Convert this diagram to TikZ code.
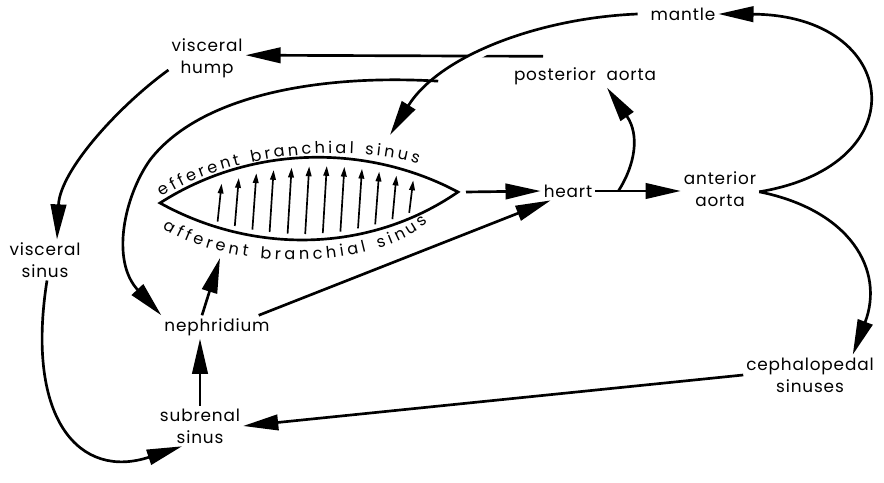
\documentclass[tikz,border=0pt]{standalone}
\usepackage{fontspec}
\usepackage{tikz}
\usetikzlibrary{positioning,arrows.meta,decorations.text}
\newfontfamily\organfont[LetterSpace=5]{Poppins}
\newcommand\lensfont{\organfont\fontsize{11.5}{14}\selectfont}

\begin{document}
\begin{tikzpicture}[
organ/.style={align=center, inner sep=2pt, font=\organfont\fontsize{12}{15.5}\selectfont},
flow/.style={line width=1.9pt, -{Triangle[length=25pt,width=11pt]}},
gill/.style={line width=1.2pt, -{Triangle[length=7pt,width=4pt]}},
wall/.style={line width=1.9pt, line join=miter}
]
\useasboundingbox (0,0) rectangle (22.1,-12.075);
%Nodes
\node[organ]     (hump)   at (5.175,-1.45)                              {visceral\\hump};
\node[organ]     (vsinus) [below of=hump, xshift=-4.05cm, yshift=-4.05cm]  {visceral\\sinus};
\node[organ]     (neph)   [below of=hump, xshift=0.25cm, yshift=-5.725cm]  {nephridium};
\node[organ]     (subren) [below of=neph, xshift=-0.425cm, yshift=-1.475cm] {subrenal\\sinus};
\node[organ]     (heart)  [right of=neph, xshift=7.775cm, yshift=3.4cm]    {heart};
\node[organ]     (antao)  [right of=heart, xshift=2.8cm, yshift=0.05cm]    {anterior\\aorta};
\node[organ]     (postao) [above of=heart, xshift=0.425cm, yshift=1.875cm] {posterior\ \ aorta};
\node[organ]     (mantle) [above of=antao, xshift=-0.925cm, yshift=3.375cm] {mantle};
\node[organ]     (cephal) [below of=antao, xshift=2.25cm, yshift=-3.65cm]  {cephalopedal\\sinuses};
%Gill
\coordinate (lt)  at (4.0,-5.075);
\coordinate (rt)  at (11.45,-4.8);
\coordinate (eff) at (9.75,-3.375);
\coordinate (aff) at (5.5,-6.45);
\draw[wall] (lt) .. controls (6.3,-3.6) and (9.2,-3.6) .. (rt) .. controls (9.2,-6.35) and (6.3,-6.35) .. (lt) -- cycle;
\draw[gill] (5.44,-5.54) -- (5.54,-4.59);
\draw[gill] (5.87,-5.65) -- (5.97,-4.45);
\draw[gill] (6.31,-5.74) -- (6.41,-4.33);
\draw[gill] (6.74,-5.80) -- (6.84,-4.25);
\draw[gill] (7.19,-5.84) -- (7.29,-4.19);
\draw[gill] (7.63,-5.85) -- (7.73,-4.16);
\draw[gill] (8.07,-5.83) -- (8.17,-4.15);
\draw[gill] (8.51,-5.79) -- (8.61,-4.17);
\draw[gill] (8.95,-5.71) -- (9.05,-4.22);
\draw[gill] (9.38,-5.61) -- (9.48,-4.29);
\draw[gill] (9.81,-5.48) -- (9.91,-4.39);
\draw[gill] (10.23,-5.32) -- (10.33,-4.51);
%Lines
\draw[flow] ([shift={(-1.05,0.2)}]postao.north) -- ([yshift=2pt]hump.east);
\draw[flow, preaction={draw, white, line width=6pt, -}] ([xshift=-0.25cm]mantle.west) .. controls (13.5,-0.45) and (11.0,-1.375) .. (eff) coordinate[pos=0.74] (split);
\draw[flow] (split) .. controls (8.0,-1.85) and (5.0,-2.375) .. (3.75,-4.0) .. controls (3.125,-4.875) and (2.75,-6.5) .. (neph.north west);
\draw[flow] ([yshift=-0.3cm]hump.west) .. controls (3.0,-2.625) and (1.5,-4.25) .. ([xshift=0.3cm]vsinus.north);
\draw[flow] ([xshift=0.05cm]vsinus.south) .. controls (0.625,-10.5) and (2.0,-12.0) .. ([xshift=-0.45cm]subren.south);
\draw[flow] (subren.north) -- (subren.north |- neph.south);
\draw[flow] ([xshift=-0.375cm]neph.north) -- (aff);
\draw[flow] ([xshift=-0.35cm]neph.north east) -- ([xshift=0.25cm]heart.south west);
\draw[flow] ([xshift=0.2cm]rt) -- (heart.west);
\draw[flow] (heart.east) -- (heart.east -| antao.west) coordinate[pos=0.27] (fork);
\draw[flow] (fork) .. controls (15.875,-4.125) and (16.0,-3.375) .. ([xshift=0.55cm]postao.south);
\draw[flow] ([yshift=-2pt]antao.east) .. controls (23.0,-4.125) and (22.5,-0.375) .. (mantle.east);
\draw[flow] ([yshift=-2pt]antao.east) .. controls (21.25,-5.25) and (22.125,-6.75) .. ([xshift=-0.6cm]cephal.north east);
\draw[flow] (cephal.west) -- (subren.east);
%Gill labels
\path[decorate, decoration={text along path, text align=fit to path, text={|\lensfont|efferent branchial sinus}}]
  (4.05,-4.925) .. controls (6.0,-3.66) and (9.18,-3.66) .. (10.45,-4.1);
\path[decorate, decoration={text along path, text align=fit to path, text={|\lensfont|afferent branchial sinus}}]
  (4.075,-5.7) .. controls (5.75,-6.79) and (9.33,-6.79) .. (10.7,-5.55);
\end{tikzpicture}
\end{document}
